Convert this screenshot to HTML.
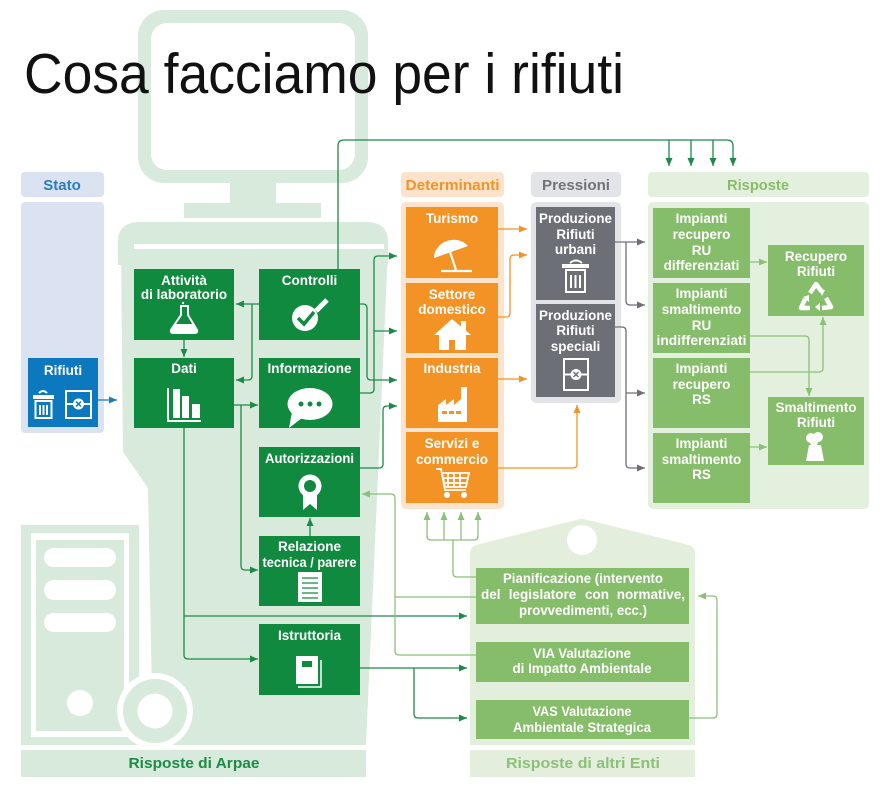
<!DOCTYPE html>
<html><head><meta charset="utf-8"><style>
html,body{margin:0;padding:0;background:#fff;}
svg{display:block;}
text{font-family:"Liberation Sans",sans-serif;}
</style></head><body>
<svg width="891" height="787" viewBox="0 0 891 787" xmlns="http://www.w3.org/2000/svg">
<defs>
<marker id="ag" markerWidth="8" markerHeight="7" refX="8" refY="3.5" orient="auto" markerUnits="userSpaceOnUse"><path d="M0,0 L8,3.5 L0,7 z" fill="#1d8a47"/></marker>
<marker id="al" markerWidth="8" markerHeight="7" refX="8" refY="3.5" orient="auto" markerUnits="userSpaceOnUse"><path d="M0,0 L8,3.5 L0,7 z" fill="#8cc07a"/></marker>
<marker id="ao" markerWidth="8" markerHeight="7" refX="8" refY="3.5" orient="auto" markerUnits="userSpaceOnUse"><path d="M0,0 L8,3.5 L0,7 z" fill="#f39325"/></marker>
<marker id="ay" markerWidth="8" markerHeight="7" refX="8" refY="3.5" orient="auto" markerUnits="userSpaceOnUse"><path d="M0,0 L8,3.5 L0,7 z" fill="#6d7078"/></marker>
<marker id="ab" markerWidth="8" markerHeight="7" refX="8" refY="3.5" orient="auto" markerUnits="userSpaceOnUse"><path d="M0,0 L8,3.5 L0,7 z" fill="#1a7bbf"/></marker>
</defs>

<!-- Monitor background -->
<rect x="138" y="10" width="230" height="173" rx="26" fill="#d7eadb"/>
<rect x="151" y="23" width="204" height="147" rx="16" fill="#fff"/>
<rect x="230" y="183" width="46" height="20" fill="#d7eadb"/>
<rect x="184" y="203" width="137" height="15" fill="#d7eadb"/>

<!-- Bin (Arpae) -->
<path d="M118,265 V242 Q118,222 140,222 H366 Q388,222 388,242 V265 Z" fill="#d7eadb"/>
<path d="M121,249 H388 L366,745 H153 L148,488 L123,452 Z" fill="#d7eadb"/>
<rect x="134" y="244" width="250" height="5" fill="#fff"/>

<!-- CPU tower -->
<rect x="21" y="525" width="118" height="220" fill="#d7eadb"/>
<rect x="31" y="533" width="98" height="204" fill="#fff"/>
<rect x="36" y="540" width="88" height="191" fill="#d7eadb"/>
<rect x="44" y="548" width="72" height="19" rx="9.5" fill="#fff"/>
<rect x="44" y="580" width="72" height="20" rx="10" fill="#fff"/>
<rect x="44" y="613" width="72" height="19" rx="9.5" fill="#fff"/>
<circle cx="80" cy="703" r="13" fill="#fff"/>
<circle cx="155" cy="711" r="38" fill="#fff"/>
<circle cx="155" cy="711" r="32" fill="#d7eadb"/>
<circle cx="155" cy="711" r="17.5" fill="#fff"/>
<rect x="0" y="745" width="400" height="5" fill="#fff"/>
<rect x="21" y="750" width="345" height="27" fill="#d7eadb"/>
<text x="194" y="768" font-size="15" font-weight="bold" fill="#1d8a47" text-anchor="middle" textLength="131" lengthAdjust="spacingAndGlyphs">Risposte di Arpae</text>

<!-- Title -->
<text x="24" y="93" font-size="57" fill="#111" textLength="600" lengthAdjust="spacingAndGlyphs">Cosa facciamo per i rifiuti</text>

<!-- Stato -->
<rect x="21" y="172" width="83" height="25" rx="4" fill="#dbe3f3"/>
<text x="62" y="190" font-size="15" font-weight="bold" fill="#2b7cc0" text-anchor="middle">Stato</text>
<rect x="21" y="202" width="83" height="231" rx="4" fill="#dbe3f3"/>
<rect x="28" y="358" width="70" height="69" fill="#0c79bf"/>
<text x="63" y="375" font-size="13.5" font-weight="bold" fill="#fff" text-anchor="middle">Rifiuti</text>
<g fill="none" stroke="#fff" stroke-width="2">
<path d="M39,393 Q43,389 47,393"/>
<rect x="35.5" y="401" width="16" height="17"/>
<path d="M40,405 V415 M43.5,405 V415 M47,405 V415"/>
<rect x="66" y="391" width="25" height="27"/>
<path d="M66,404 H91"/>
</g>
<rect x="33" y="395" width="21" height="4" fill="#fff"/>
<circle cx="78.5" cy="404" r="5.5" fill="#fff"/>
<path d="M76,401.5 L81,406.5 M81,401.5 L76,406.5" stroke="#0c79bf" stroke-width="1.5"/>
<path d="M98,400 H117" stroke="#1a7bbf" stroke-width="1.3" fill="none" marker-end="url(#ab)"/>

<!-- Determinanti -->
<rect x="401" y="172" width="103" height="25" rx="4" fill="#fde3cb"/>
<text x="452.5" y="190" font-size="15" font-weight="bold" fill="#f39325" text-anchor="middle" textLength="94" lengthAdjust="spacingAndGlyphs">Determinanti</text>
<rect x="401" y="202" width="103" height="307" rx="5" fill="#fde3cb"/>
<rect x="406" y="207" width="92" height="71" fill="#f39325"/>
<rect x="406" y="283" width="92" height="70" fill="#f39325"/>
<rect x="406" y="358" width="92" height="70" fill="#f39325"/>
<rect x="406" y="432" width="92" height="71" fill="#f39325"/>
<g font-size="13.5" font-weight="bold" fill="#fff" text-anchor="middle">
<text x="452" y="223">Turismo</text>
<text x="452" y="299">Settore</text>
<text x="452" y="314">domestico</text>
<text x="452" y="373">Industria</text>
<text x="452" y="448">Servizi e</text>
<text x="452" y="464">commercio</text>
</g>
<path d="M434,258 C434,242 456,233 468,246 Z" fill="#fff"/>
<path d="M450,252 L456,270 M441,271 H472" stroke="#fff" stroke-width="2.2"/>
<path d="M452,319 L471,335 H434 Z" fill="#fff"/>
<rect x="461" y="321" width="5" height="10" fill="#fff"/>
<rect x="439" y="333" width="27" height="17" fill="#fff"/>
<rect x="449" y="340" width="6" height="10" fill="#f39325"/>
<path d="M438,422 V405 L446,399 V405 L454,399 V405 L461,399 V387 H467 V422 Z" fill="#fff"/>
<rect x="442" y="411" width="5" height="3" fill="#f39325"/>
<rect x="449" y="411" width="5" height="3" fill="#f39325"/>
<rect x="456" y="411" width="5" height="3" fill="#f39325"/>
<g fill="none" stroke="#fff" stroke-width="1.8">
<path d="M436,469 H441 L445,490 H466"/>
<path d="M442,473 H469 L466,487 H445 Z"/>
<path d="M448,473 V487 M454,473 V487 M460,473 V487 M443,478 H468 M444,483 H467"/>
</g>
<circle cx="447" cy="495" r="3" fill="#fff"/>
<circle cx="464" cy="495" r="3" fill="#fff"/>

<!-- Pressioni -->
<rect x="531" y="172" width="90" height="25" rx="4" fill="#e3e4e7"/>
<text x="576" y="190" font-size="15" font-weight="bold" fill="#70737a" text-anchor="middle" textLength="68" lengthAdjust="spacingAndGlyphs">Pressioni</text>
<rect x="531" y="202" width="90" height="201" rx="5" fill="#e3e4e7"/>
<rect x="536" y="207" width="79" height="93" fill="#6c6f76"/>
<rect x="536" y="304" width="79" height="93" fill="#6c6f76"/>
<g font-size="13.5" font-weight="bold" fill="#fff" text-anchor="middle">
<text x="575.5" y="223" textLength="73" lengthAdjust="spacingAndGlyphs">Produzione</text>
<text x="575.5" y="239">Rifiuti</text>
<text x="575.5" y="254">urbani</text>
<text x="575.5" y="320" textLength="73" lengthAdjust="spacingAndGlyphs">Produzione</text>
<text x="575.5" y="335">Rifiuti</text>
<text x="575.5" y="351">speciali</text>
</g>
<g fill="none" stroke="#fff" stroke-width="2">
<path d="M570,263 Q576,258 582,263"/>
<rect x="566" y="270" width="19" height="22"/>
<path d="M571,275 V288 M575.5,275 V288 M580,275 V288"/>
<rect x="564" y="359" width="24" height="31"/>
<path d="M564,374.5 H588"/>
</g>
<rect x="562" y="264" width="27" height="4" fill="#fff"/>
<circle cx="576" cy="374.5" r="5.5" fill="#fff"/>
<path d="M573.5,372 L578.5,377 M578.5,372 L573.5,377" stroke="#6c6f76" stroke-width="1.5"/>

<!-- Risposte -->
<rect x="648" y="172" width="221" height="25" rx="4" fill="#e4f0de"/>
<text x="758" y="190" font-size="15" font-weight="bold" fill="#86bd6a" text-anchor="middle" textLength="62" lengthAdjust="spacingAndGlyphs">Risposte</text>
<rect x="648" y="202" width="221" height="307" rx="5" fill="#e4f0de"/>
<rect x="653" y="208" width="97" height="70" fill="#86bd6a"/>
<rect x="653" y="283" width="97" height="70" fill="#86bd6a"/>
<rect x="653" y="358" width="97" height="70" fill="#86bd6a"/>
<rect x="653" y="433" width="97" height="70" fill="#86bd6a"/>
<rect x="768" y="245" width="96" height="71" fill="#86bd6a"/>
<rect x="768" y="397" width="96" height="68" fill="#86bd6a"/>
<g font-size="13.5" font-weight="bold" fill="#fff" text-anchor="middle">
<text x="701.5" y="223">Impianti</text>
<text x="701.5" y="239">recupero</text>
<text x="701.5" y="255">RU</text>
<text x="701.5" y="270">differenziati</text>
<text x="701.5" y="298">Impianti</text>
<text x="701.5" y="314">smaltimento</text>
<text x="701.5" y="330">RU</text>
<text x="701.5" y="345" textLength="90" lengthAdjust="spacingAndGlyphs">indifferenziati</text>
<text x="701.5" y="373">Impianti</text>
<text x="701.5" y="389">recupero</text>
<text x="701.5" y="404">RS</text>
<text x="701.5" y="448">Impianti</text>
<text x="701.5" y="464">smaltimento</text>
<text x="701.5" y="479">RS</text>
<text x="816" y="261">Recupero</text>
<text x="816" y="276">Rifiuti</text>
<text x="816" y="412">Smaltimento</text>
<text x="816" y="427">Rifiuti</text>
</g>
<g fill="none" stroke="#fff" stroke-width="4.5" stroke-linejoin="round">
<path d="M810,293 L816,284 L822,292"/>
<path d="M826,298 L831,307 L822,308"/>
<path d="M810,308 L801,308 L805,299"/>
</g>
<path d="M819,289 l6,1 l-3,6 z M820,311 l-5,-4 l5,-4 z M803,297 l6,-2 l0,7 z" fill="#fff"/>
<circle cx="811" cy="438" r="5" fill="#fff"/>
<circle cx="818" cy="437" r="5" fill="#fff"/>
<circle cx="814" cy="442" r="4" fill="#fff"/>
<path d="M809,445 H821 L824,461 H806 Z" fill="#fff"/>

<!-- Arpae boxes -->
<g fill="#108a3f">
<rect x="134" y="269" width="100" height="71"/>
<rect x="259" y="269" width="101" height="71"/>
<rect x="134" y="358" width="100" height="70"/>
<rect x="259" y="358" width="101" height="70"/>
<rect x="259" y="447" width="101" height="70"/>
<rect x="259" y="536" width="101" height="70"/>
<rect x="259" y="624" width="101" height="71"/>
</g>
<g font-size="13.5" font-weight="bold" fill="#fff" text-anchor="middle">
<text x="184" y="285">Attività</text>
<text x="184" y="299">di laboratorio</text>
<text x="309.5" y="285">Controlli</text>
<text x="184" y="373">Dati</text>
<text x="309.5" y="373">Informazione</text>
<text x="309.5" y="463" textLength="89" lengthAdjust="spacingAndGlyphs">Autorizzazioni</text>
<text x="309.5" y="551">Relazione</text>
<text x="309.5" y="567" textLength="94" lengthAdjust="spacingAndGlyphs">tecnica / parere</text>
<text x="309.5" y="640">Istruttoria</text>
</g>
<path d="M180,306 H189 M181,306 V315 L171,330 Q170,333 174,333 H194 Q198,333 197,330 L188,315 V306" fill="none" stroke="#fff" stroke-width="2"/>
<path d="M174,324 H194 L197,330 Q198,333 194,333 H174 Q170,333 171,330 Z" fill="#fff"/>
<circle cx="183" cy="303" r="1.2" fill="#fff"/>
<circle cx="305" cy="318" r="13" fill="#fff"/>
<path d="M298,318 L304,324 L314,312" fill="none" stroke="#108a3f" stroke-width="3.5"/>
<path d="M316,311 L327,300" stroke="#fff" stroke-width="5"/>
<rect x="167" y="388" width="2" height="34" fill="#fff"/>
<rect x="167" y="420" width="34" height="2" fill="#fff"/>
<rect x="173" y="389" width="7" height="29" fill="#fff"/>
<rect x="182" y="396" width="7" height="22" fill="#fff"/>
<rect x="192" y="404" width="8" height="14" fill="#fff"/>
<ellipse cx="310" cy="404" rx="22.5" ry="16" fill="#fff"/>
<path d="M292,412 L289,428 L302,418 Z" fill="#fff"/>
<circle cx="301" cy="404" r="2.5" fill="#108a3f"/>
<circle cx="310" cy="404" r="2.5" fill="#108a3f"/>
<circle cx="319" cy="404" r="2.5" fill="#108a3f"/>
<path d="M303,493 V510 L310,504 L317,510 V493 Z" fill="#fff"/>
<circle cx="310" cy="486" r="11.5" fill="#fff"/>
<circle cx="310" cy="486" r="6" fill="#108a3f"/>
<rect x="298" y="572" width="24" height="30" fill="#fff"/>
<path d="M302,578 H318 M302,583 H318 M302,588 H318 M302,593 H318 M302,598 H318" stroke="#108a3f" stroke-width="1.3"/>
<rect x="296" y="656" width="22" height="28" fill="#fff"/>
<rect x="302" y="661" width="10" height="6" fill="#108a3f"/>
<path d="M321,660 V687 H298" fill="none" stroke="#fff" stroke-width="1.5"/>

<!-- Enti house -->
<path d="M470,560 V553 Q470,547 476,545 L576,520 Q582,518 588,520 L689,545 Q695,547 695,553 V745 H470 Z" fill="#e3efdc"/>
<circle cx="582" cy="540" r="15" fill="#fff"/>
<rect x="470" y="750" width="225" height="27" fill="#e3efdc"/>
<text x="583" y="768" font-size="15" font-weight="bold" fill="#8cc07a" text-anchor="middle" textLength="154" lengthAdjust="spacingAndGlyphs">Risposte di altri Enti</text>
<rect x="476" y="568" width="213" height="56" fill="#86bd6a"/>
<rect x="476" y="642" width="213" height="40" fill="#86bd6a"/>
<rect x="476" y="700" width="213" height="39" fill="#86bd6a"/>
<g font-size="13.5" font-weight="bold" fill="#fff" text-anchor="middle">
<text x="583" y="583" textLength="160" lengthAdjust="spacingAndGlyphs">Pianificazione (intervento</text>
<text x="481" y="599" text-anchor="start">del</text>
<text x="542.5" y="599">legislatore</text>
<text x="597" y="599">con</text>
<text x="685" y="599" text-anchor="end">normative,</text>
<text x="583" y="615" textLength="128" lengthAdjust="spacingAndGlyphs">provvedimenti, ecc.)</text>
<text x="582" y="658" textLength="98" lengthAdjust="spacingAndGlyphs">VIA Valutazione</text>
<text x="582" y="673" textLength="139" lengthAdjust="spacingAndGlyphs">di Impatto Ambientale</text>
<text x="582" y="716" textLength="99" lengthAdjust="spacingAndGlyphs">VAS Valutazione</text>
<text x="582" y="732" textLength="138" lengthAdjust="spacingAndGlyphs">Ambientale Strategica</text>
</g>

<!-- Dark green connectors -->
<g fill="none" stroke="#1d8a47" stroke-width="1.3">
<path d="M338,269 V146 Q338,140 344,140 H727 Q733,140 733,146 V166" marker-end="url(#ag)"/>
<path d="M669,140 V166" marker-end="url(#ag)"/>
<path d="M691,140 V166" marker-end="url(#ag)"/>
<path d="M713,140 V166" marker-end="url(#ag)"/>
<path d="M259,304 H236" marker-end="url(#ag)"/>
<path d="M252,304 V376 Q252,380 248,380 H236" marker-end="url(#ag)"/>
<path d="M184,340 V357" marker-end="url(#ag)"/>
<path d="M234,405 H258" marker-end="url(#ag)"/>
<path d="M241,405 V566 Q241,570 245,570 H258" marker-end="url(#ag)"/>
<path d="M184,428 V655 Q184,659 188,659 H258" marker-end="url(#ag)"/>
<path d="M184,616 H467" marker-end="url(#ag)"/>
<path d="M360,668 H467" marker-end="url(#ag)"/>
<path d="M414,668 V714 Q414,718 418,718 H467" marker-end="url(#ag)"/>
<path d="M360,304 H363 Q367,304 367,308 V376 Q367,380 371,380 H397" marker-end="url(#ag)"/>
<path d="M360,393 H370 Q374,393 374,389 V260 Q374,256 378,256 H397" marker-end="url(#ag)"/>
<path d="M374,331 H397" marker-end="url(#ag)"/>
<path d="M360,468 H379 Q383,468 383,464 V410 Q383,406 387,406 H397" marker-end="url(#ag)"/>
<path d="M310,536 V518" marker-end="url(#ag)"/>
</g>

<!-- Light green connectors -->
<g fill="none" stroke="#8cc07a" stroke-width="1.3">
<path d="M476,655 H399 Q395,655 395,651 V498 Q395,494 391,494 H362" marker-end="url(#al)"/>
<path d="M476,597 H395"/>
<path d="M476,577 H457 Q453,577 453,573 V540"/>
<path d="M431,540 H474"/>
<path d="M427,536 Q427,540 431,540 M474,540 Q478,540 478,536"/>
<path d="M427,538 V512" marker-end="url(#al)"/>
<path d="M444,540 V512" marker-end="url(#al)"/>
<path d="M461,540 V512" marker-end="url(#al)"/>
<path d="M478,538 V512" marker-end="url(#al)"/>
<path d="M689,718 H713 Q717,718 717,714 V600 Q717,596 713,596 H698" marker-end="url(#al)"/>
<path d="M750,262 H767" marker-end="url(#al)"/>
<path d="M750,336 H805 Q809,336 809,340 V396" marker-end="url(#al)"/>
<path d="M750,372 H819 Q823,372 823,368 V317" marker-end="url(#al)"/>
<path d="M750,447 H767" marker-end="url(#al)"/>
</g>

<!-- Orange connectors -->
<g fill="none" stroke="#f39325" stroke-width="1.3">
<path d="M498,229 H527" marker-end="url(#ao)"/>
<path d="M498,317 H506 Q510,317 510,313 V259 Q510,255 514,255 H527" marker-end="url(#ao)"/>
<path d="M498,379 H527" marker-end="url(#ao)"/>
<path d="M498,468 H573 Q577,468 577,464 V405" marker-end="url(#ao)"/>
</g>

<!-- Gray connectors -->
<g fill="none" stroke="#6d7078" stroke-width="1.3">
<path d="M615,242 H645" marker-end="url(#ay)"/>
<path d="M626,242 V301 Q626,305 630,305 H645" marker-end="url(#ay)"/>
<path d="M615,327 H622 Q626,327 626,331 V464 Q626,468 630,468 H645" marker-end="url(#ay)"/>
<path d="M626,393 H645" marker-end="url(#ay)"/>
</g>
</svg>
</body></html>
